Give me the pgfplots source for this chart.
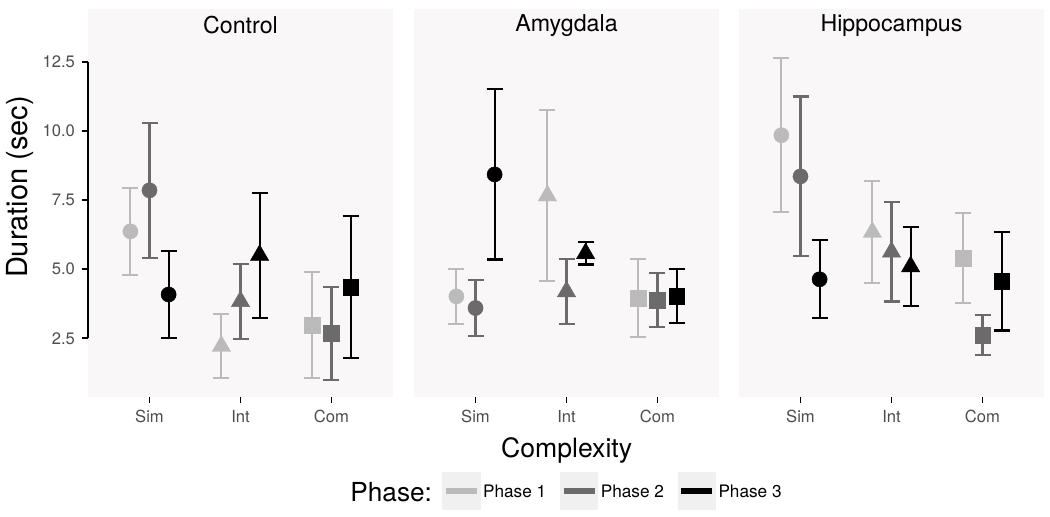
\documentclass[border=0pt]{standalone}
\usepackage{fontspec}
\setmainfont{TeX Gyre Heros}
\usepackage{pgfplots}
\usepackage{pgfplotstable}
\pgfplotsset{compat=1.18}

\definecolor{pone}{HTML}{BBBBBB}
\definecolor{ptwo}{HTML}{6B6B6B}
\definecolor{pthree}{HTML}{000000}
\definecolor{panelbg}{HTML}{F9F7F8}
\definecolor{keybg}{HTML}{F0F0F0}
\definecolor{ticklab}{HTML}{4D4D4D}
\newcommand\fs[1]{\fontsize{#1}{#1}\selectfont}

% mean and half-width of error bar, per phase
\pgfplotstableread{
x cat y1 e1 y2 e2 y3 e3
1 Sim 6.370 1.570 7.855 2.435 4.085 1.585
2 Int 2.215 1.165 3.835 1.355 5.505 2.255
3 Com 2.980 1.930 2.680 1.690 4.355 2.575
}\ctrl
\pgfplotstableread{
x cat y1 e1 y2 e2 y3 e3
1 Sim 4.015 0.995 3.595 1.015 8.430 3.080
2 Int 7.660 3.090 4.190 1.170 5.570 0.400
3 Com 3.960 1.400 3.875 0.975 4.025 0.985
}\amyg
\pgfplotstableread{
x cat y1 e1 y2 e2 y3 e3
1 Sim 9.850 2.780 8.360 2.890 4.635 1.415
2 Int 6.340 1.840 5.625 1.795 5.095 1.425
3 Com 5.405 1.635 2.620 0.720 4.560 1.780
}\hipp

\pgfplotsset{
  panel/.style={
    scale only axis, width=152.5pt, height=177.7pt, anchor=south west,
    xmin=0.324, xmax=3.676, ymin=0.375, ymax=13.238,
    axis line style={draw=none},
    axis background/.style={fill=panelbg},
    xtick={1,2,3}, xticklabels={Sim,Int,Com}, xtick pos=bottom,
    tick align=outside, major tick length=3pt,
    tick style={black, line width=0.8pt},
    ticklabel style={font=\fs{8.3}, text=ticklab},
    clip=false,
  },
  phase/.style={
    only marks, color=#1,
    mark options={fill=#1, draw=#1, line width=0.2pt},
    scatter, point meta=explicit symbolic,
    scatter/classes={
      Sim={mark=*, mark size=3.8pt},
      Int={mark=triangle*, mark size=5.3pt},
      Com={mark=square*, mark size=3.9pt}},
    error bars/.cd, y dir=both, y explicit,
    error bar style={line width=1.05pt, color=#1},
    error mark options={rotate=90, line width=1.05pt, mark size=4pt, color=#1},
  },
}

\newcommand\phases[1]{%
  \addplot[phase=pone] table[x expr=\thisrow{x}-0.21, y=y1, y error=e1, meta=cat] {#1};
  \addplot[phase=ptwo] table[x=x, y=y2, y error=e2, meta=cat] {#1};
  \addplot[phase=pthree] table[x expr=\thisrow{x}+0.21, y=y3, y error=e3, meta=cat] {#1};
}
\newcommand\strip[2]{%
  \fill[panelbg] (#1.north west) rectangle ([yshift=16.3pt]#1.north east);
  \node[font=\fs{11.6}] at ([yshift=8.15pt]#1.north) {#2};
}

\begin{document}
\begin{tikzpicture}
\useasboundingbox (-44pt,-60pt) rectangle (481pt,198.5pt);

\begin{axis}[panel, name=c, at={(0pt,0pt)},
  ytick={2.5,5,7.5,10,12.5}, yticklabels={2.5,5.0,7.5,10.0,12.5}, ytick pos=left]
  \phases{\ctrl}
  \draw[black, line width=0.8pt] (axis cs:0.324,2.5) -- (axis cs:0.324,12.5);
\end{axis}
\strip{c}{Control}

\begin{axis}[panel, name=a, at={(163pt,0pt)}, ytick=\empty]
  \phases{\amyg}
\end{axis}
\strip{a}{Amygdala}

\begin{axis}[panel, name=h, at={(325.5pt,0pt)}, ytick=\empty]
  \phases{\hipp}
\end{axis}
\strip{h}{Hippocampus}

\node[rotate=90, font=\fs{14.5}] at (-34pt,105pt) {Duration (sec)};
\node[font=\fs{13.3}] at (239.3pt,-26.5pt) {Complexity};

\node[anchor=west, inner sep=0pt, font=\fs{13.1}] at (131pt,-47.4pt) {Phase:};
\foreach \c/\lab/\bx in {pone/Phase 1/177.15, ptwo/Phase 2/236, pthree/Phase 3/294.85}{
  \fill[keybg] (\bx pt,-56.5pt) rectangle ++(19.2pt,19pt);
  \draw[\c, line width=3pt] (\bx pt+1.8pt,-47pt) -- ++(15.5pt,0pt);
  \node[anchor=west, inner sep=0pt, font=\fs{8.6}] at (\bx pt+20.2pt,-47.2pt) {\lab};
}
\end{tikzpicture}
\end{document}
